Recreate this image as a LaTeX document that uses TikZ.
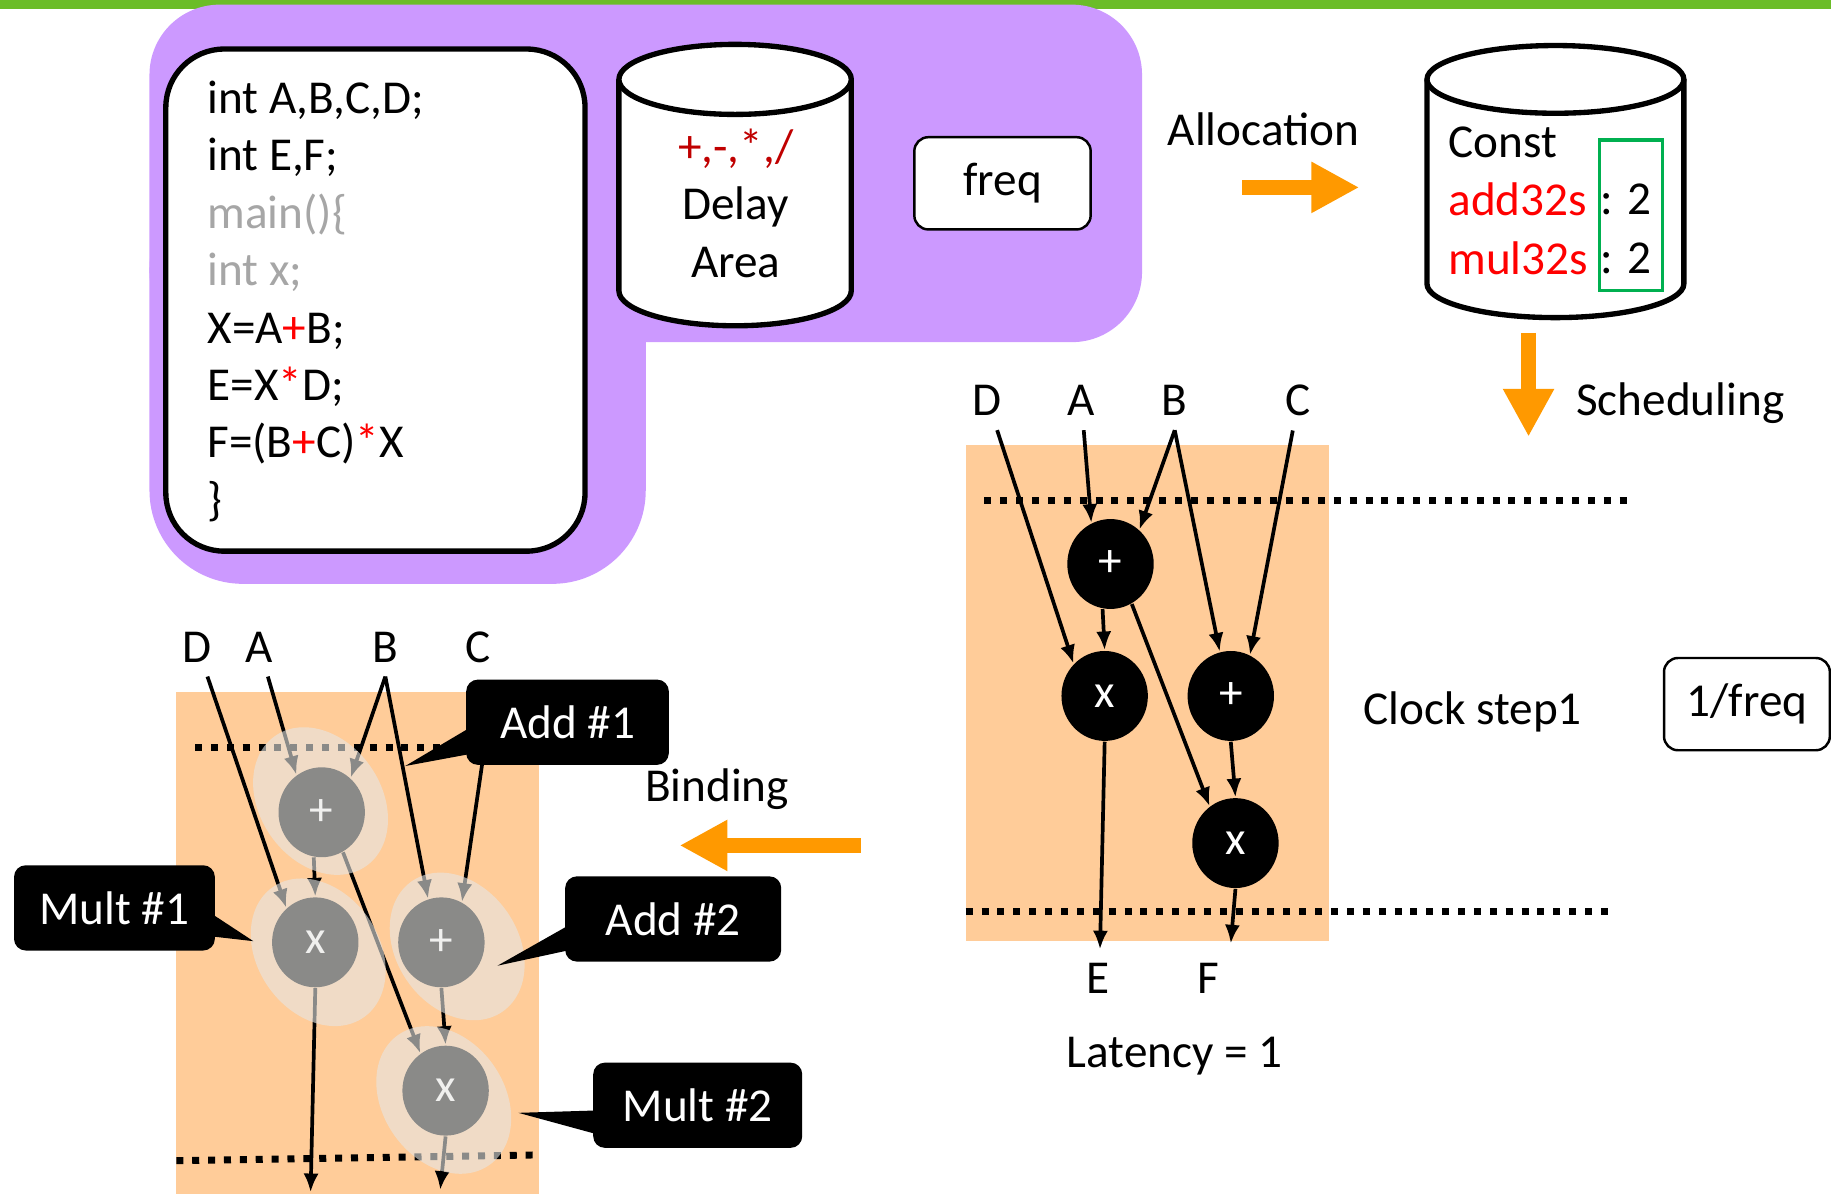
\documentclass[tikz,border=0pt]{standalone}
\usepackage{fontspec}
\setmainfont{Carlito}
\usepackage{xcolor}
\usepackage{tikz}
\usetikzlibrary{arrows.meta,shapes.geometric}

\definecolor{bargreen}{RGB}{107,189,40}
\definecolor{lilac}{RGB}{204,153,255}
\definecolor{peach}{RGB}{255,204,153}
\definecolor{blockorange}{RGB}{255,153,0}
\definecolor{codegray}{RGB}{166,166,166}
\definecolor{darkred}{RGB}{192,0,0}
\definecolor{boxgreen}{RGB}{0,176,80}
\definecolor{halogray}{RGB}{230,230,228}

\begin{document}
\begin{tikzpicture}[x=0.1mm, y=-0.1mm,
  every node/.style={font=\fontsize{11.5}{14}\selectfont},
  opnode/.style={ellipse, fill=black, text=white, inner sep=0pt, minimum width=7.4mm, minimum height=7.7mm},
  flow/.style={line width=0.9pt, -{Latex[length=1.6mm,width=1.3mm]}},
  clockline/.style={line width=1.7pt, dash pattern=on 0.6mm off 0.76mm},
  halo/.style={fill=halogray, fill opacity=0.6},
  callout/.style={fill=black, text=white, rounded corners=1mm, minimum height=7.3mm},
  drum/.style={draw, line width=1.3pt, fill=white},
  tagbox/.style={draw, fill=white, line width=0.6pt, rounded corners=1.2mm, minimum height=7.9mm},
  bigarrow/.style={draw=blockorange, line width=1.35mm, -{Triangle[length=4.1mm,width=4.1mm]}}]

  \clip (0,0) rectangle (1568,1022);

  % Top bar and the input region
  \fill[bargreen] (0,0) rectangle (1568,8);
  \fill[lilac, rounded corners=6mm] (128,4) rectangle (978,293);
  \fill[lilac, rounded corners=8mm] (128,150) rectangle (553,500);

  % Source code
  \draw[line width=1.3pt, fill=white, rounded corners=5mm] (142,42) rectangle (501,472);
  \foreach \txt [count=\i] in {{int A,B,C,D;}, {int E,F;},
      {\textcolor{codegray}{main()\{}}, {\textcolor{codegray}{int x;}},
      {X=A\textcolor{red}{+}B;}, {E=X\textcolor{red}{*}D;},
      {F=(B\textcolor{red}{+}C)\textcolor{red}{*}X}, {\}}} {
    \node[anchor=base west, inner sep=0pt] (code\i) at (177, {97+49.2*(\i-1)}) {\txt};
  }

  % Library: delay and area
  \draw[drum] (530,68) -- (530,249) arc[start angle=180, end angle=0, x radius=99.5, y radius=30] -- (729,68);
  \draw[drum] (629.5,68) ellipse[x radius=99.5, y radius=30];
  \node[align=center] (opsdb) at (630,174) {\textcolor{darkred}{+,-,*,/}\\Delay\\Area};

  \node[tagbox, minimum width=15.1mm] (freq) at (858.5,157) {freq};

  % Allocation
  \node (alloc) at (1082,111) {Allocation};
  \draw[bigarrow] (1064,160.5) -- (1164,160.5);

  \draw[drum] (1222,68) -- (1222,243) arc[start angle=180, end angle=0, x radius=110, y radius=29] -- (1442,68);
  \draw[drum] (1332,68) ellipse[x radius=110, y radius=29];
  \node[anchor=west] (const) at (1228,122) {Const};
  \node[anchor=west, text=red] (addunits) at (1228,171) {add32s};
  \node[anchor=west, text=red] (mulunits) at (1228,221) {mul32s};
  \node[anchor=west] (addcount) at (1358,171) {: 2};
  \node[anchor=west] (mulcount) at (1358,221) {: 2};
  \draw[boxgreen, line width=0.8pt] (1370,120) rectangle (1424,249);

  % Scheduling
  \draw[bigarrow] (1309,285) -- (1309,374);
  \node (sched) at (1439,345) {Scheduling};

  \fill[peach] (827,381) rectangle (1138,806);
  \draw[clockline] (843,429) -- (1398,429);
  \draw[clockline] (827,781) -- (1382,781);

  \node (sD) at (845.6,343) {D};
  \node (sA) at (926,343) {A};
  \node (sB) at (1006,343) {B};
  \node (sC) at (1112,343) {C};

  \node[opnode] (sadd1) at (951,483) {+};
  \node[opnode] (smul1) at (946,596) {x};
  \node[opnode] (sadd2) at (1054,596) {+};
  \node[opnode] (smul2) at (1058,722) {x};

  \draw[flow] (sD) -- (smul1.north west);
  \draw[flow] (sA) -- (sadd1.115);
  \draw[flow] (sB.south) -- (sadd1.50);
  \draw[flow] (sB.south) -- (sadd2.104);
  \draw[flow] (sC) -- (sadd2.65);
  \draw[flow] (sadd1.260) -- (smul1.north);
  \draw[flow] (sadd1.-62) -- (smul2.125);
  \draw[flow] (sadd2.south) -- (smul2.north);

  \coordinate (sEout) at (942,813);
  \coordinate (sFout) at (1054,808);
  \draw[flow] (smul1.south) -- (sEout);
  \draw[flow] (smul2.south) -- (sFout);

  \node (sE) at (940,838) {E};
  \node (sF) at (1035,838) {F};
  \node (latency) at (1006,904) {Latency = 1};
  \node (clockstep) at (1261,610) {Clock step1};
  \node[tagbox, minimum width=14.2mm] (invfreq) at (1496,603) {1/freq};

  % Binding
  \node (bind) at (614,676) {Binding};
  \draw[bigarrow] (737,724) -- (582,724);

  \fill[peach] (151,593) rectangle (462,1030);
  \draw[clockline] (167,640) -- (400,640);
  \draw[clockline] (151,994) -- (462,989);

  \node (bD) at (169,554) {D};
  \node (bA) at (222,554) {A};
  \node (bB) at (330,554) {B};
  \node (bC) at (409,554) {C};

  \node[opnode] (badd1) at (275.5,695.6) {+};
  \node[opnode] (bmul1) at (270,807) {x};
  \node[opnode] (badd2) at (378,807) {+};
  \node[opnode] (bmul2) at (381.6,934) {x};

  \draw[flow] (bD) -- (bmul1.130);
  \draw[flow] (bA) -- (badd1.124);
  \draw[flow] (bB.south) -- (badd1.50);
  \draw[flow] (bB.south) -- (badd2.107);
  \draw[flow, shorten <=1.5mm] (bC.-60) -- (badd2.63);
  \draw[flow] (badd1.260) -- (bmul1.north);
  \draw[flow] (badd1.-62) -- (bmul2.124);
  \draw[flow] (badd2.south) -- (bmul2.north);

  \coordinate (bEout) at (266,1021);
  \coordinate (bFout) at (377,1019);
  \draw[flow] (bmul1.south) -- (bEout);
  \draw[flow] (bmul2.south) -- (bFout);

  % Shared units
  \foreach \cx/\cy in {274.5/686, 272.5/815.5, 391.5/810.5, 380/942}
    \fill[halo, rotate around={35:(\cx,\cy)}] (\cx,\cy) ellipse[x radius=52, y radius=68];

  \node[callout, minimum width=17.35mm] (addone) at (486,618.5) {Add \#1};
  \fill (401,624) -- (347,656) -- (401,646) -- cycle;
  \node[callout, minimum width=17.2mm] (multone) at (98,777.5) {Mult \#1};
  \fill (182,783) -- (217,806) -- (182,802) -- cycle;
  \node[callout, minimum width=18.5mm] (addtwo) at (576.5,787) {Add \#2};
  \fill (486,793) -- (426,827) -- (486,814) -- cycle;
  \node[callout, minimum width=17.9mm] (multtwo) at (597.5,946.5) {Mult \#2};
  \fill (510,951) -- (444,953) -- (510,971) -- cycle;

\end{tikzpicture}
\end{document}
